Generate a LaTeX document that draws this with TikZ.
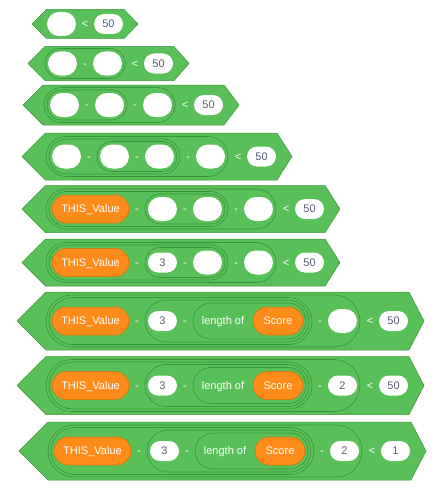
\documentclass[tikz,border=0pt]{standalone}
\usepackage{fontspec}
\newfontfamily\blkfam{Liberation Sans}
\usepackage{tikz}

\definecolor{opfill}{HTML}{59C059}
\definecolor{opline}{HTML}{389438}
\definecolor{varfill}{HTML}{FF8C1A}
\definecolor{varline}{HTML}{DB6E00}
\definecolor{slottext}{HTML}{575E75}

\tikzset{
  hexblk/.style={fill=opfill, draw=opline, line width=0.5pt, line join=round},
  opblk/.style={fill=opfill, draw=opline, line width=0.6pt},
  blktxt/.style={font=\blkfam\fontsize{11}{13}\selectfont, inner sep=0pt, text height=7.9pt, text depth=0pt},
  emptyslot/.style={fill=white, rounded corners=12pt, minimum width=29pt, minimum height=24pt, inner sep=0pt},
  numslot/.style={blktxt, fill=white, rounded corners=10pt, minimum width=29pt, minimum height=20pt, text=slottext},
  varblk/.style={blktxt, fill=varfill, draw=varline, line width=0.5pt, rounded corners=14pt, minimum height=28pt, text=white},
  opsym/.style={blktxt, text=white}
}

\begin{document}
\begin{tikzpicture}[x=1pt,y=1pt,yscale=-1,xscale=1]
\useasboundingbox (0,0) rectangle (446,495);

%Row 1
\draw [hexblk] (32,24) -- (46.5,9.5) -- (124,9.5) -- (138,24) -- (124,38.5) -- (46.5,38.5) -- cycle ;
% Text Node
\draw (61.5,24) node [emptyslot] (r1a) {};
\draw (85,24) node [opsym] (r1lt) {<};
\draw (108.5,24) node [numslot] (r1n) {50};

%Row 2
\draw [hexblk] (28,63.5) -- (45,46.5) -- (174,46.5) -- (189,63.5) -- (174,80.5) -- (45,80.5) -- cycle ;
\draw [opblk, rounded corners=15pt] (45,48.5) rectangle (125,78.5) ;
% Text Node
\draw (62.5,63.5) node [emptyslot] (r2a) {};
\draw (85,63.5) node [opsym] (r2m1) {-};
\draw (107.5,63.5) node [emptyslot] (r2b) {};
\draw (135,63.5) node [opsym] (r2lt) {<};
\draw (158.5,63.5) node [numslot] (r2n) {50};

%Row 3
\draw [hexblk] (23,105) -- (43,85) -- (224,85) -- (239,105) -- (224,125) -- (43,125) -- cycle ;
\draw [opblk, rounded corners=17.5pt] (44,87.5) rectangle (175,122.5) ;
\draw [opblk, rounded corners=15pt] (47,90) rectangle (127,120) ;
% Text Node
\draw (64.5,105) node [emptyslot] (r3a) {};
\draw (87,105) node [opsym] (r3m1) {-};
\draw (109.5,105) node [emptyslot] (r3b) {};
\draw (135,105) node [opsym] (r3m2) {-};
\draw (157.5,105) node [emptyslot] (r3c) {};
\draw (185,105) node [opsym] (r3lt) {<};
\draw (208.5,105) node [numslot] (r3n) {50};

%Row 4
\draw [hexblk] (22,156.5) -- (45.5,133) -- (277,133) -- (292,156.5) -- (277,180) -- (45.5,180) -- cycle ;
\draw [opblk, rounded corners=20pt] (46,136.5) rectangle (228,176.5) ;
\draw [opblk, rounded corners=17.5pt] (49,139) rectangle (180,174) ;
\draw [opblk, rounded corners=15pt] (97,141.5) rectangle (177,171.5) ;
% Text Node
\draw (66.5,156.5) node [emptyslot] (r4a) {};
\draw (89,156.5) node [opsym] (r4m1) {-};
\draw (114.5,156.5) node [emptyslot] (r4b) {};
\draw (137,156.5) node [opsym] (r4m2) {-};
\draw (159.5,156.5) node [emptyslot] (r4c) {};
\draw (188,156.5) node [opsym] (r4m3) {-};
\draw (210.5,156.5) node [emptyslot] (r4d) {};
\draw (238,156.5) node [opsym] (r4lt) {<};
\draw (261.5,156.5) node [numslot] (r4n) {50};

%Row 5
\draw [hexblk] (22,209) -- (45.5,185.5) -- (325,185.5) -- (340,209) -- (325,232.5) -- (45.5,232.5) -- cycle ;
\draw [opblk, rounded corners=20pt] (46,189) rectangle (276,229) ;
\draw [opblk, rounded corners=17.5pt] (49,191.5) rectangle (228,226.5) ;
\draw [opblk, rounded corners=15pt] (145,194) rectangle (225,224) ;
% Text Node
\draw (90.5,209) node [varblk, minimum width=77pt] (r5v) {THIS\_Value};
\draw (137,209) node [opsym] (r5m1) {-};
\draw (162.5,209) node [emptyslot] (r5b) {};
\draw (185,209) node [opsym] (r5m2) {-};
\draw (207.5,209) node [emptyslot] (r5c) {};
\draw (236,209) node [opsym] (r5m3) {-};
\draw (258.5,209) node [emptyslot] (r5d) {};
\draw (286,209) node [opsym] (r5lt) {<};
\draw (309.5,209) node [numslot] (r5n) {50};

%Row 6
\draw [hexblk] (22,262.5) -- (45.5,239) -- (325,239) -- (340,262.5) -- (325,286) -- (45.5,286) -- cycle ;
\draw [opblk, rounded corners=20pt] (46,242.5) rectangle (276,282.5) ;
\draw [opblk, rounded corners=17.5pt] (49,245) rectangle (228,280) ;
\draw [opblk, rounded corners=15pt] (145,247.5) rectangle (225,277.5) ;
% Text Node
\draw (90.5,262.5) node [varblk, minimum width=77pt] (r6v) {THIS\_Value};
\draw (137,262.5) node [opsym] (r6m1) {-};
\draw (162.5,262.5) node [numslot] (r6b) {3};
\draw (185,262.5) node [opsym] (r6m2) {-};
\draw (207.5,262.5) node [emptyslot] (r6c) {};
\draw (236,262.5) node [opsym] (r6m3) {-};
\draw (258.5,262.5) node [emptyslot] (r6d) {};
\draw (286,262.5) node [opsym] (r6lt) {<};
\draw (309.5,262.5) node [numslot] (r6n) {50};

%Row 7
\draw [hexblk] (17,321) -- (46,292) -- (409,292) -- (424,321) -- (409,350) -- (46,350) -- cycle ;
\draw [opblk, rounded corners=26pt] (46,295) rectangle (360,347) ;
\draw [opblk, rounded corners=23.5pt] (49,297.5) rectangle (312,344.5) ;
\draw [opblk, rounded corners=21pt] (145,300) rectangle (309,342) ;
\draw [opblk, rounded corners=18pt] (193,303) rectangle (306,339) ;
% Text Node
\draw (90.5,321) node [varblk, minimum width=77pt] (r7v) {THIS\_Value};
\draw (137,321) node [opsym] (r7m1) {-};
\draw (162.5,321) node [numslot] (r7b) {3};
\draw (185,321) node [opsym] (r7m2) {-};
\draw (223,321) node [opsym] (r7len) {length of};
\draw (278,321) node [varblk, minimum width=50pt] (r7s) {Score};
\draw (320,321) node [opsym] (r7m3) {-};
\draw (342.5,321) node [emptyslot] (r7d) {};
\draw (370,321) node [opsym] (r7lt) {<};
\draw (393.5,321) node [numslot] (r7n) {50};

%Row 8
\draw [hexblk] (17,385.5) -- (46,356.5) -- (409,356.5) -- (424,385.5) -- (409,414.5) -- (46,414.5) -- cycle ;
\draw [opblk, rounded corners=26pt] (46,359.5) rectangle (360,411.5) ;
\draw [opblk, rounded corners=23.5pt] (49,362) rectangle (312,409) ;
\draw [opblk, rounded corners=21pt] (145,364.5) rectangle (309,406.5) ;
\draw [opblk, rounded corners=18pt] (193,367.5) rectangle (306,403.5) ;
% Text Node
\draw (90.5,385.5) node [varblk, minimum width=77pt] (r8v) {THIS\_Value};
\draw (137,385.5) node [opsym] (r8m1) {-};
\draw (162.5,385.5) node [numslot] (r8b) {3};
\draw (185,385.5) node [opsym] (r8m2) {-};
\draw (223,385.5) node [opsym] (r8len) {length of};
\draw (278,385.5) node [varblk, minimum width=50pt] (r8s) {Score};
\draw (320,385.5) node [opsym] (r8m3) {-};
\draw (342.5,385.5) node [numslot] (r8d) {2};
\draw (370,385.5) node [opsym] (r8lt) {<};
\draw (393.5,385.5) node [numslot] (r8n) {50};

%Row 9
\draw [hexblk] (19,451) -- (48,422) -- (411,422) -- (426,451) -- (411,480) -- (48,480) -- cycle ;
\draw [opblk, rounded corners=26pt] (48,425) rectangle (362,477) ;
\draw [opblk, rounded corners=23.5pt] (51,427.5) rectangle (314,474.5) ;
\draw [opblk, rounded corners=21pt] (147,430) rectangle (311,472) ;
\draw [opblk, rounded corners=18pt] (195,433) rectangle (308,469) ;
% Text Node
\draw (92.5,451) node [varblk, minimum width=77pt] (r9v) {THIS\_Value};
\draw (139,451) node [opsym] (r9m1) {-};
\draw (164.5,451) node [numslot] (r9b) {3};
\draw (187,451) node [opsym] (r9m2) {-};
\draw (225,451) node [opsym] (r9len) {length of};
\draw (280,451) node [varblk, minimum width=50pt] (r9s) {Score};
\draw (322,451) node [opsym] (r9m3) {-};
\draw (344.5,451) node [numslot] (r9d) {2};
\draw (372,451) node [opsym] (r9lt) {<};
\draw (395.5,451) node [numslot] (r9n) {1};

\end{tikzpicture}
\end{document}
